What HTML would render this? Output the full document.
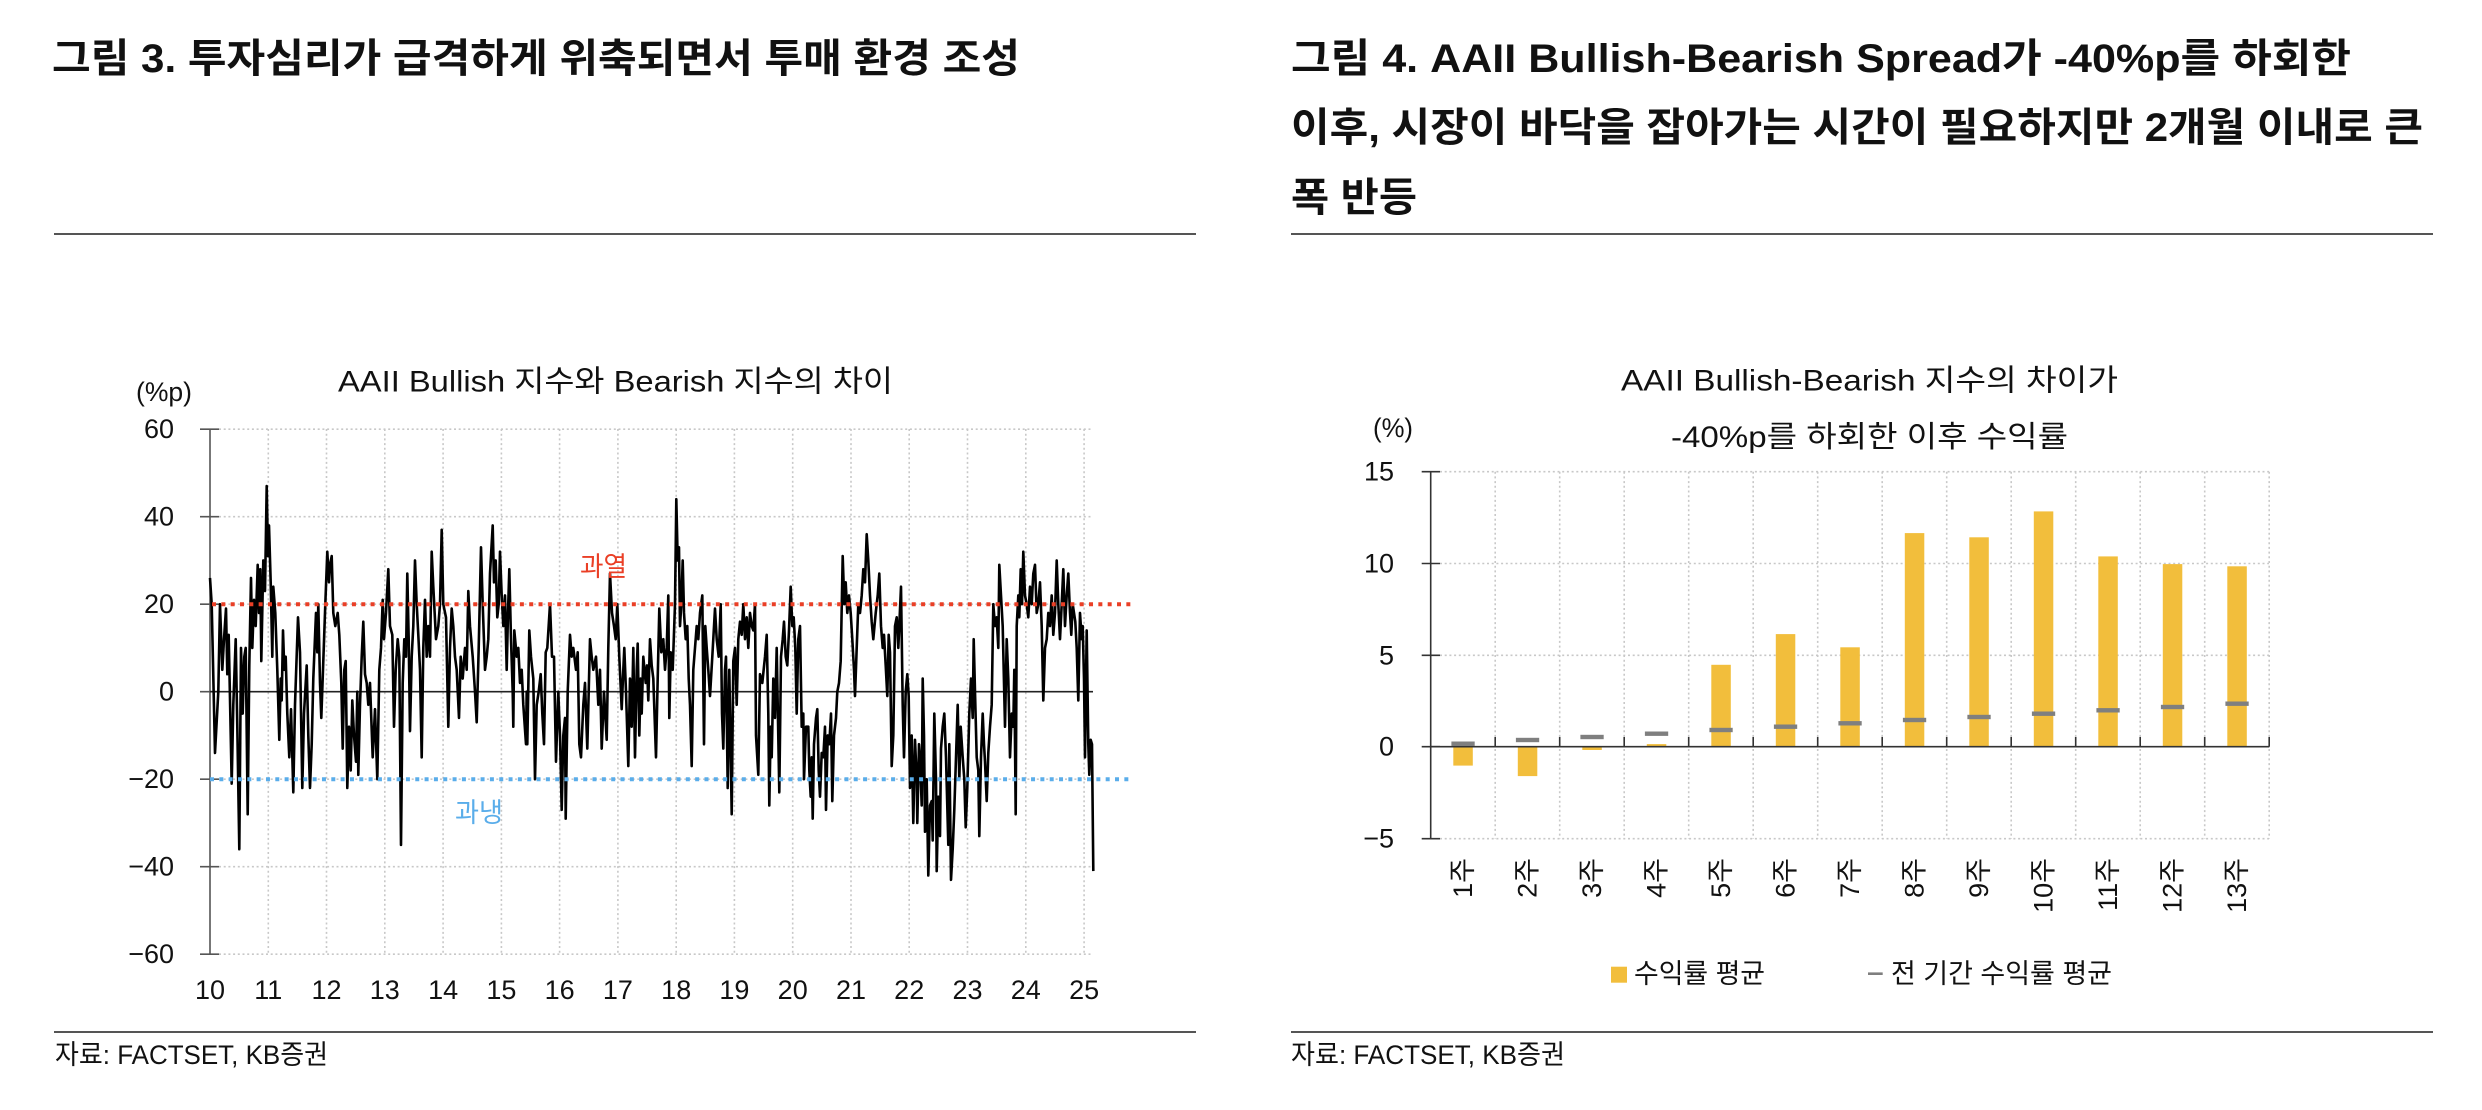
<!DOCTYPE html>
<html><head><meta charset="utf-8"><style>
html,body{margin:0;padding:0;background:#fff;}
svg{display:block;}
text{font-family:"Liberation Sans","Noto Sans CJK KR",sans-serif;fill:#111;}
.t{font-weight:bold;font-size:40px;}
.ct{font-size:30px;}
.lb{font-size:27px;}
</style></head><body>
<svg width="2482" height="1110" viewBox="0 0 2482 1110" xmlns="http://www.w3.org/2000/svg">
<rect x="0" y="0" width="2482" height="1110" fill="#fff"/>

<!-- Titles -->
<text class="t" x="52" y="59" dominant-baseline="central" textLength="968" lengthAdjust="spacingAndGlyphs">그림 3. 투자심리가 급격하게 위축되면서 투매 환경 조성</text>
<text class="t" x="1291" y="59" dominant-baseline="central" textLength="1060" lengthAdjust="spacingAndGlyphs">그림 4. AAII Bullish-Bearish Spread가 -40%p를 하회한</text>
<text class="t" x="1291" y="128" dominant-baseline="central" textLength="1132" lengthAdjust="spacingAndGlyphs">이후, 시장이 바닥을 잡아가는 시간이 필요하지만 2개월 이내로 큰</text>
<text class="t" x="1291" y="198" dominant-baseline="central" textLength="126" lengthAdjust="spacingAndGlyphs">폭 반등</text>

<line x1="54" y1="234" x2="1196" y2="234" stroke="#555" stroke-width="2"/>
<line x1="1291" y1="234" x2="2433" y2="234" stroke="#555" stroke-width="2"/>
<line x1="54" y1="1032" x2="1196" y2="1032" stroke="#555" stroke-width="2"/>
<line x1="1291" y1="1032" x2="2433" y2="1032" stroke="#555" stroke-width="2"/>

<text class="lb" x="55" y="1055" dominant-baseline="central" textLength="273" lengthAdjust="spacingAndGlyphs">자료: FACTSET, KB증권</text>
<text class="lb" x="1291" y="1055" dominant-baseline="central" textLength="274" lengthAdjust="spacingAndGlyphs">자료: FACTSET, KB증권</text>

<!-- ================= LEFT CHART ================= -->
<text class="ct" x="338" y="382" dominant-baseline="central" textLength="555" lengthAdjust="spacingAndGlyphs">AAII Bullish 지수와 Bearish 지수의 차이</text>
<text class="lb" x="136" y="392" dominant-baseline="central" textLength="56" lengthAdjust="spacingAndGlyphs">(%p)</text>

<g stroke="#c8c8c8" stroke-width="1.6" stroke-dasharray="2 2.7" fill="none">
<line x1="219" y1="429.2" x2="1093" y2="429.2"/>
<line x1="219" y1="516.7" x2="1093" y2="516.7"/>
<line x1="219" y1="604.2" x2="1093" y2="604.2"/>
<line x1="219" y1="779.2" x2="1093" y2="779.2"/>
<line x1="219" y1="866.7" x2="1093" y2="866.7"/>
<line x1="219" y1="954.2" x2="1093" y2="954.2"/>
<line x1="268.3" y1="429" x2="268.3" y2="954"/>
<line x1="326.5" y1="429" x2="326.5" y2="954"/>
<line x1="384.8" y1="429" x2="384.8" y2="954"/>
<line x1="443.1" y1="429" x2="443.1" y2="954"/>
<line x1="501.4" y1="429" x2="501.4" y2="954"/>
<line x1="559.6" y1="429" x2="559.6" y2="954"/>
<line x1="617.9" y1="429" x2="617.9" y2="954"/>
<line x1="676.2" y1="429" x2="676.2" y2="954"/>
<line x1="734.4" y1="429" x2="734.4" y2="954"/>
<line x1="792.7" y1="429" x2="792.7" y2="954"/>
<line x1="851.0" y1="429" x2="851.0" y2="954"/>
<line x1="909.2" y1="429" x2="909.2" y2="954"/>
<line x1="967.5" y1="429" x2="967.5" y2="954"/>
<line x1="1025.8" y1="429" x2="1025.8" y2="954"/>
<line x1="1084.1" y1="429" x2="1084.1" y2="954"/>
</g>

<!-- axis -->
<g stroke="#555" stroke-width="1.6">
<line x1="210" y1="429.2" x2="210" y2="954.2"/>
<line x1="200" y1="429.2" x2="219" y2="429.2"/>
<line x1="200" y1="516.7" x2="219" y2="516.7"/>
<line x1="200" y1="604.2" x2="219" y2="604.2"/>
<line x1="200" y1="691.7" x2="219" y2="691.7"/>
<line x1="200" y1="779.2" x2="219" y2="779.2"/>
<line x1="200" y1="866.7" x2="219" y2="866.7"/>
<line x1="200" y1="954.2" x2="219" y2="954.2"/>
</g>
<line x1="210" y1="691.7" x2="1093" y2="691.7" stroke="#222" stroke-width="1.6"/>

<g class="lb" text-anchor="end" dominant-baseline="central">
<text class="lb" x="174" y="429.2" text-anchor="end" dominant-baseline="central">60</text>
<text class="lb" x="174" y="516.7" text-anchor="end" dominant-baseline="central">40</text>
<text class="lb" x="174" y="604.2" text-anchor="end" dominant-baseline="central">20</text>
<text class="lb" x="174" y="691.7" text-anchor="end" dominant-baseline="central">0</text>
<text class="lb" x="174" y="779.2" text-anchor="end" dominant-baseline="central">−20</text>
<text class="lb" x="174" y="866.7" text-anchor="end" dominant-baseline="central">−40</text>
<text class="lb" x="174" y="954.2" text-anchor="end" dominant-baseline="central">−60</text>
</g>
<g>
<text class="lb" x="210" y="990" text-anchor="middle" dominant-baseline="central">10</text>
<text class="lb" x="268.3" y="990" text-anchor="middle" dominant-baseline="central">11</text>
<text class="lb" x="326.5" y="990" text-anchor="middle" dominant-baseline="central">12</text>
<text class="lb" x="384.8" y="990" text-anchor="middle" dominant-baseline="central">13</text>
<text class="lb" x="443.1" y="990" text-anchor="middle" dominant-baseline="central">14</text>
<text class="lb" x="501.4" y="990" text-anchor="middle" dominant-baseline="central">15</text>
<text class="lb" x="559.6" y="990" text-anchor="middle" dominant-baseline="central">16</text>
<text class="lb" x="617.9" y="990" text-anchor="middle" dominant-baseline="central">17</text>
<text class="lb" x="676.2" y="990" text-anchor="middle" dominant-baseline="central">18</text>
<text class="lb" x="734.4" y="990" text-anchor="middle" dominant-baseline="central">19</text>
<text class="lb" x="792.7" y="990" text-anchor="middle" dominant-baseline="central">20</text>
<text class="lb" x="851.0" y="990" text-anchor="middle" dominant-baseline="central">21</text>
<text class="lb" x="909.2" y="990" text-anchor="middle" dominant-baseline="central">22</text>
<text class="lb" x="967.5" y="990" text-anchor="middle" dominant-baseline="central">23</text>
<text class="lb" x="1025.8" y="990" text-anchor="middle" dominant-baseline="central">24</text>
<text class="lb" x="1084.1" y="990" text-anchor="middle" dominant-baseline="central">25</text>
</g>

<!-- data line -->
<g transform="translate(0,691.7) scale(1,-4.375)">
<polyline fill="none" stroke="#000" stroke-width="2.6" stroke-linejoin="round" vector-effect="non-scaling-stroke" points="
210,26 211.7,20 215,-14 218.3,0 220,20 222.3,5 224,12 226,19 227.3,4 228.7,13 231.7,-21 233.3,-3 235.7,12 237.3,-8 239.3,-36 241,10 242.7,-5 244.3,8 245.7,10 247.7,-28 249.3,6 251,26 252.3,10 254,21 255.7,15 257.7,29 259,18 260.3,28 261.3,7 263.3,30 265,23 266.7,47 268,31 269,38 270.7,25 272.3,8 273.3,24 275.3,18 277.3,5 279.3,-11 280.7,3 281.7,-2 283,14 284.3,5 285.7,8 287.3,-5 289.3,-15 291,-4 293.3,-23 295,-3 298,17 300,9 302.3,-22 304,-5 306.7,6 308.3,-10 310,-22 311.7,-12 313.3,3 316,18 317.3,9 318.3,20 320,2 321.3,-6 323.3,7 325.3,20 327.3,32 329,25 330,29 331.7,31 333.3,18 335.3,15 337.7,18 339.3,13 341.3,2 342.7,-13 344.3,5 345.7,7 347.3,-22 349,-8 350.7,-18 352.3,-2 354,-10 356,-16 357.3,0 358.3,-19 360,-3 361.7,8 363.3,16 365,4 366.7,2 368.3,-3 370,2 372.7,-15 375,-4 377.3,-20 379.3,5 381,10 382.7,21 384,12 386,18 388.3,28 390,15 392.3,13 394,-8 395.7,5 397.7,12 399.3,8 401,-35 402.7,2 404.3,12 406,8 407.3,27 408.7,12 410,-9 411.7,8 413.3,15 415,30 416.7,20 418.3,13 420,5 421.7,-15 423.3,10 425,21 426.7,8 428.3,15 430,8 431.7,32 433.3,24 436,12 438.3,15 440,20 441.7,37 443.3,20 446,17 448.3,-8 450,10 451.7,19 453.3,15 455,8 456.7,5 459,-6 460.7,8 462.7,3 465,10 466.7,5 468.3,23 470,15 472.7,8 475,0 476.7,-7 478.7,10 481,33 482.7,20 485,5 486.7,8 488.3,12 490,27 492.7,38 494,25 495.7,30 497.3,17 498.7,20 500,32 501.7,22 503.3,15 505,22 506.7,5 508,18 509.3,28 511,12 512.7,0 513.3,-8 514.3,14 516.7,8 518.3,10 520,2 521.7,5 523.3,-3 526,-12 526.7,0 527.3,-12 529.3,14 531,8 533.3,3 535,-20 536.7,-3 538.7,0 540.7,4 542.3,-5 544,-12 545.7,9 547.3,10 550,20 552,8 554,8 556,-16 558.3,0 560,-10 561.7,-27 563.3,-10 565,-6 565.7,-29 567.7,0 570,13 571.7,8 573.3,10 576,5 577.7,9 579.3,-12 581,-15 583.3,-3 585,2 587.3,-13 590,12 591.7,8 593.3,5 596,8 598.3,-3 600,5
601.7,-13 604,0 606.7,-11 608.3,10 610,27 612,18 614,15 615.7,12 617.3,20 619.3,8 621.7,-4 623.3,5 624.3,10 626,0 628.3,-17 630,3 631.7,-8 633.3,10 635,-15 636.7,5 637.7,11 639.3,-10 640.7,3 641.7,-5 643.3,8 645.7,2 647,6 648.3,-2 650,12 651.7,6 653.3,3 656,-15 657.7,3 659.3,19 661.3,9 663.3,12 665,5 666.7,10 668.3,22 669.3,-6 670.7,9 672.7,5 675,20 676.3,44 677.7,30 679,33 680,15 681.3,20 682.7,30 684,18 685.7,12 687.3,15 688.7,3 690,-3 691.7,-17 693.3,5 695,10 696.7,15 698.3,12 700,18 702.3,22 704,-12 705.3,15 706.7,10 708.3,5 710,-1 712.3,8 715,19 716.7,12 718.7,8 720.7,20 722,-5 723.3,-13 725,5 726,8 727.7,-22 729.3,5 731.7,-28 733.3,7 735,10 736.7,-3 738.3,12 740,16 741.7,13 743.3,20 745,12 746.7,17 748.3,10 750,18 751.7,15 753.3,14 755,20 756,-10 758.3,-19 760,4 762.3,2 765,8 766.7,13 768.3,-5 769.3,-26 770.7,-8 771.7,-15 773.3,3 775,-6 776.7,10 779.3,-23 781,8 782.7,12 784,16 785.7,8 787.3,6 789,14 790.7,24 792.3,15 793.7,17 795.3,10 796.7,-5 798.3,12 800,15 801.7,-8 803.3,-5 804,-20 806,-8 808.3,-8 809.3,-18 810.7,-24 811.7,-15 812.7,-29 814,-12 816,-6 817.3,-4 818.7,-18 820,-24 821.7,-14 823.3,-15 825,-8 826,-27 827.7,-10 829.3,-12 831,-5 832.3,-25 834,-10 836,-6 837.3,0 839,2 840.7,7 842.7,31 844.3,20 845.7,25 847.3,18 849,22 850.7,18 852.3,12 854,5 855,-1 856.7,10 858.3,20 860,18 861.7,22 863.3,28 865,25 866.7,36 868.3,30 870,22 871.7,16 873.3,12 875.7,18 877.7,22 879.3,27 881,15 882.7,10 884,13 885.7,6 887.3,-1 888.7,13 890,9 891.7,-17 893.3,-10 895,15 896.7,17 898.3,10 901,24 902.7,-3 904,-15 905.7,0 907.3,4 908.7,-1 910,-22 911.7,-10 913.3,-30 915,-11 916.7,-20 917.3,-30 919,-12 920,-15 921.7,-26 922.7,3 924,-10 925,-32 926.7,-20 928.3,-42 930,-26 931.7,-25 932.7,-34 934.3,-5 936,-20 936.7,-41 938.3,-24 940,-33 941,-13 942.7,-8 944.3,-5 946,-15 948.3,-35 949.3,-12 951,-43 952.7,-36 954.3,-27 956,-15 957.7,-3 959.3,-20 960.7,-8 962.7,-15 964.3,-20 965.7,-31 967.3,-22 969.3,-5 971,3 972.7,-6 973.7,12 975,0 976.7,-15 978.3,-18 979.3,-33 981,-15 982.7,-5 984,-12 985,-16 986.7,-25 988.3,-14 990,-8 991.7,-3 993.3,20 995,15 996.7,17 998.3,10 999.3,29 1001,22 1002.7,15 1005,-8 1006.7,12 1008.3,3 1010,-15 1011.7,-5 1013.3,-8 1014.3,5 1015.7,-28 1016.7,15 1018.3,22 1019.3,17 1020.7,28 1022,20 1023.3,32 1025,22 1026.7,20 1028.3,17 1030,24 1031.7,20 1033.3,27 1035,29 1036.7,18 1038.3,20 1040,25 1041.7,15 1043.3,-2 1045,10 1046.7,12 1048.3,18 1050,15 1051.7,22 1053.3,13 1055,18 1056.7,30 1058.3,20 1060,12 1061.7,20 1063.3,28 1065,15 1066.7,22 1068.3,27 1070,18 1071.3,13 1072.7,20 1074,18 1075.3,16 1076.7,10 1078.3,-2 1080,18 1081.7,12 1082.7,15 1084,3 1085,-15 1086.7,14 1088.3,-12 1089.3,-19 1090.7,-11 1092,-12 1093.3,-41"/>
</g>

<!-- threshold lines -->
<line x1="212" y1="604.2" x2="1133" y2="604.2" stroke="#EA3F26" stroke-width="4" stroke-dasharray="4 5.33"/>
<line x1="210" y1="779.2" x2="1130" y2="779.2" stroke="#5AADEA" stroke-width="4" stroke-dasharray="4 5.33"/>
<text class="lb" x="580" y="567" dominant-baseline="central" textLength="47" lengthAdjust="spacingAndGlyphs" style="fill:#EA3F26">과열</text>
<text class="lb" x="455" y="813" dominant-baseline="central" textLength="48" lengthAdjust="spacingAndGlyphs" style="fill:#5AADEA">과냉</text>

<!-- ================= RIGHT CHART ================= -->
<text class="ct" x="1621" y="381" dominant-baseline="central" textLength="497" lengthAdjust="spacingAndGlyphs">AAII Bullish-Bearish 지수의 차이가</text>
<text class="ct" x="1671" y="437.5" dominant-baseline="central" textLength="397" lengthAdjust="spacingAndGlyphs">-40%p를 하회한 이후 수익률</text>
<text class="lb" x="1373" y="428" dominant-baseline="central" textLength="40" lengthAdjust="spacingAndGlyphs">(%)</text>

<g stroke="#c8c8c8" stroke-width="1.6" stroke-dasharray="2 2.7" fill="none">
<line x1="1440" y1="471.7" x2="2269" y2="471.7"/>
<line x1="1440" y1="563.5" x2="2269" y2="563.5"/>
<line x1="1440" y1="655.3" x2="2269" y2="655.3"/>
<line x1="1440" y1="838.7" x2="2269" y2="838.7"/>
<line x1="1495.2" y1="471.7" x2="1495.2" y2="838.7"/>
<line x1="1559.7" y1="471.7" x2="1559.7" y2="838.7"/>
<line x1="1624.2" y1="471.7" x2="1624.2" y2="838.7"/>
<line x1="1688.7" y1="471.7" x2="1688.7" y2="838.7"/>
<line x1="1753.2" y1="471.7" x2="1753.2" y2="838.7"/>
<line x1="1817.7" y1="471.7" x2="1817.7" y2="838.7"/>
<line x1="1882.2" y1="471.7" x2="1882.2" y2="838.7"/>
<line x1="1946.7" y1="471.7" x2="1946.7" y2="838.7"/>
<line x1="2011.2" y1="471.7" x2="2011.2" y2="838.7"/>
<line x1="2075.7" y1="471.7" x2="2075.7" y2="838.7"/>
<line x1="2140.2" y1="471.7" x2="2140.2" y2="838.7"/>
<line x1="2204.7" y1="471.7" x2="2204.7" y2="838.7"/>
<line x1="2269.2" y1="471.7" x2="2269.2" y2="838.7"/>
</g>

<!-- bars -->
<g fill="#F2BE3C">
<rect x="1453.3" y="746.7" width="19.5" height="18.9"/>
<rect x="1517.8" y="746.7" width="19.5" height="29.4"/>
<rect x="1582.3" y="746.7" width="19.5" height="3.3"/>
<rect x="1646.8" y="744.1" width="19.5" height="2.6"/>
<rect x="1711.3" y="664.8" width="19.5" height="81.9"/>
<rect x="1775.8" y="634.1" width="19.5" height="112.6"/>
<rect x="1840.3" y="647.3" width="19.5" height="99.4"/>
<rect x="1904.8" y="533.1" width="19.5" height="213.6"/>
<rect x="1969.3" y="537.3" width="19.5" height="209.4"/>
<rect x="2033.8" y="511.4" width="19.5" height="235.3"/>
<rect x="2098.3" y="556.4" width="19.5" height="190.3"/>
<rect x="2162.8" y="564.1" width="19.5" height="182.6"/>
<rect x="2227.3" y="566.3" width="19.5" height="180.4"/>
</g>
<!-- all-period markers -->
<g fill="#7f7f7f">
<rect x="1451.4" y="741.5" width="23.3" height="4.4"/>
<rect x="1515.9" y="737.8" width="23.3" height="4.4"/>
<rect x="1580.4" y="734.8" width="23.3" height="4.4"/>
<rect x="1644.9" y="731.5" width="23.3" height="4.4"/>
<rect x="1709.4" y="727.8" width="23.3" height="4.4"/>
<rect x="1773.9" y="724.5" width="23.3" height="4.4"/>
<rect x="1838.4" y="721.1" width="23.3" height="4.4"/>
<rect x="1902.9" y="717.8" width="23.3" height="4.4"/>
<rect x="1967.4" y="714.8" width="23.3" height="4.4"/>
<rect x="2031.9" y="711.5" width="23.3" height="4.4"/>
<rect x="2096.4" y="708.1" width="23.3" height="4.4"/>
<rect x="2160.9" y="704.8" width="23.3" height="4.4"/>
<rect x="2225.4" y="701.5" width="23.3" height="4.4"/>
</g>

<g stroke="#333" stroke-width="1.6">
<line x1="1430.7" y1="471.7" x2="1430.7" y2="838.7"/>
<line x1="1421.7" y1="471.7" x2="1440" y2="471.7"/>
<line x1="1421.7" y1="563.5" x2="1440" y2="563.5"/>
<line x1="1421.7" y1="655.3" x2="1440" y2="655.3"/>
<line x1="1421.7" y1="746.7" x2="1440" y2="746.7"/>
<line x1="1421.7" y1="838.7" x2="1440" y2="838.7"/>
<line x1="1430.7" y1="746.7" x2="2269.3" y2="746.7"/>
<line x1="1495.2" y1="737" x2="1495.2" y2="746.7"/>
<line x1="1559.7" y1="737" x2="1559.7" y2="746.7"/>
<line x1="1624.2" y1="737" x2="1624.2" y2="746.7"/>
<line x1="1688.7" y1="737" x2="1688.7" y2="746.7"/>
<line x1="1753.2" y1="737" x2="1753.2" y2="746.7"/>
<line x1="1817.7" y1="737" x2="1817.7" y2="746.7"/>
<line x1="1882.2" y1="737" x2="1882.2" y2="746.7"/>
<line x1="1946.7" y1="737" x2="1946.7" y2="746.7"/>
<line x1="2011.2" y1="737" x2="2011.2" y2="746.7"/>
<line x1="2075.7" y1="737" x2="2075.7" y2="746.7"/>
<line x1="2140.2" y1="737" x2="2140.2" y2="746.7"/>
<line x1="2204.7" y1="737" x2="2204.7" y2="746.7"/>
<line x1="2269.2" y1="737" x2="2269.2" y2="746.7"/>
</g>

<text class="lb" x="1394" y="471.7" text-anchor="end" dominant-baseline="central">15</text>
<text class="lb" x="1394" y="563.5" text-anchor="end" dominant-baseline="central">10</text>
<text class="lb" x="1394" y="655.3" text-anchor="end" dominant-baseline="central">5</text>
<text class="lb" x="1394" y="746.7" text-anchor="end" dominant-baseline="central">0</text>
<text class="lb" x="1394" y="838.7" text-anchor="end" dominant-baseline="central">−5</text>

<!-- category labels (rotated) -->
<g>
<text class="lb" transform="translate(1463,858) rotate(-90)" text-anchor="end" dominant-baseline="central">1주</text>
<text class="lb" transform="translate(1527.5,858) rotate(-90)" text-anchor="end" dominant-baseline="central">2주</text>
<text class="lb" transform="translate(1592,858) rotate(-90)" text-anchor="end" dominant-baseline="central">3주</text>
<text class="lb" transform="translate(1656.5,858) rotate(-90)" text-anchor="end" dominant-baseline="central">4주</text>
<text class="lb" transform="translate(1721,858) rotate(-90)" text-anchor="end" dominant-baseline="central">5주</text>
<text class="lb" transform="translate(1785.5,858) rotate(-90)" text-anchor="end" dominant-baseline="central">6주</text>
<text class="lb" transform="translate(1850,858) rotate(-90)" text-anchor="end" dominant-baseline="central">7주</text>
<text class="lb" transform="translate(1914.5,858) rotate(-90)" text-anchor="end" dominant-baseline="central">8주</text>
<text class="lb" transform="translate(1979,858) rotate(-90)" text-anchor="end" dominant-baseline="central">9주</text>
<text class="lb" transform="translate(2043.5,858) rotate(-90)" text-anchor="end" dominant-baseline="central">10주</text>
<text class="lb" transform="translate(2108,858) rotate(-90)" text-anchor="end" dominant-baseline="central">11주</text>
<text class="lb" transform="translate(2172.5,858) rotate(-90)" text-anchor="end" dominant-baseline="central">12주</text>
<text class="lb" transform="translate(2237,858) rotate(-90)" text-anchor="end" dominant-baseline="central">13주</text>
</g>

<!-- legend -->
<rect x="1611" y="966.7" width="16" height="16" fill="#F2BE3C"/>
<text class="lb" x="1634" y="974" dominant-baseline="central" textLength="131" lengthAdjust="spacingAndGlyphs">수익률 평균</text>
<line x1="1868" y1="973.7" x2="1882.7" y2="973.7" stroke="#7f7f7f" stroke-width="2.6"/>
<text class="lb" x="1891" y="974" dominant-baseline="central" textLength="221" lengthAdjust="spacingAndGlyphs">전 기간 수익률 평균</text>
</svg>
</body></html>
